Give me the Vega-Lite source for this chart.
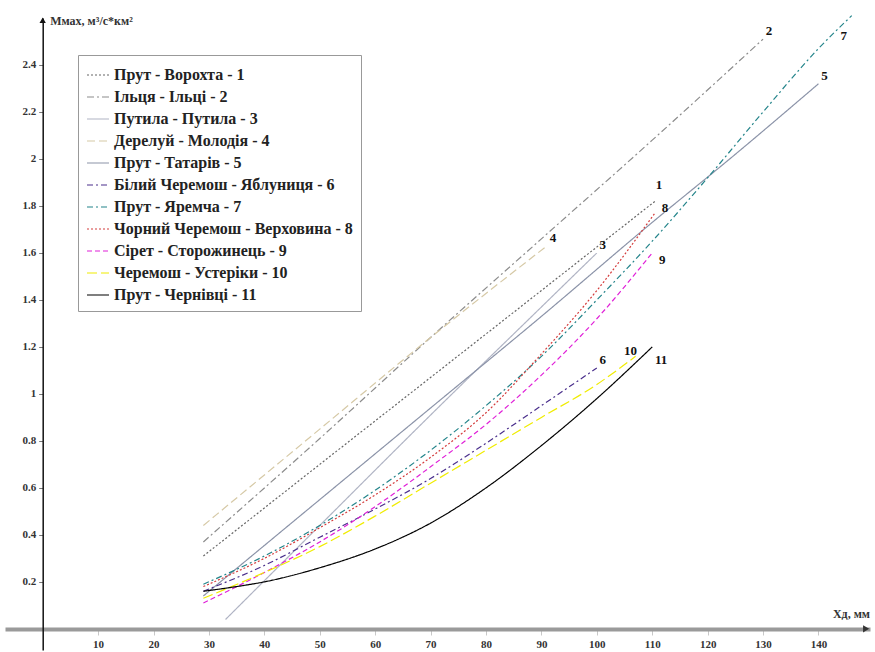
{
  "$schema": "https://vega.github.io/schema/vega-lite/v6.json",
  "width": 865,
  "height": 632,
  "autosize": {"type": "none"},
  "padding": {"left": 5, "top": 18, "right": 5, "bottom": 2},
  "background": "white",
  "config": {"view": {"stroke": null}, "font": "Liberation Serif"},
  "data": {"values": [
    {"s": "Прут - Ворохта - 1", "n": "1", "x": 29, "y": 0.31},
    {"s": "Прут - Ворохта - 1", "n": "1", "x": 50, "y": 0.70},
    {"s": "Прут - Ворохта - 1", "n": "1", "x": 70, "y": 1.07},
    {"s": "Прут - Ворохта - 1", "n": "1", "x": 90, "y": 1.44},
    {"s": "Прут - Ворохта - 1", "n": "1", "x": 110.5, "y": 1.82},
    {"s": "Ільця - Ільці - 2", "n": "2", "x": 29, "y": 0.37},
    {"s": "Ільця - Ільці - 2", "n": "2", "x": 50, "y": 0.81},
    {"s": "Ільця - Ільці - 2", "n": "2", "x": 70, "y": 1.24},
    {"s": "Ільця - Ільці - 2", "n": "2", "x": 90, "y": 1.66},
    {"s": "Ільця - Ільці - 2", "n": "2", "x": 110, "y": 2.08},
    {"s": "Ільця - Ільці - 2", "n": "2", "x": 130, "y": 2.51},
    {"s": "Путила - Путила - 3", "n": "3", "x": 33, "y": 0.04},
    {"s": "Путила - Путила - 3", "n": "3", "x": 50, "y": 0.44},
    {"s": "Путила - Путила - 3", "n": "3", "x": 70, "y": 0.91},
    {"s": "Путила - Путила - 3", "n": "3", "x": 90, "y": 1.37},
    {"s": "Путила - Путила - 3", "n": "3", "x": 100, "y": 1.60},
    {"s": "Дерелуй - Молодія - 4", "n": "4", "x": 29, "y": 0.44},
    {"s": "Дерелуй - Молодія - 4", "n": "4", "x": 50, "y": 0.85},
    {"s": "Дерелуй - Молодія - 4", "n": "4", "x": 70, "y": 1.24},
    {"s": "Дерелуй - Молодія - 4", "n": "4", "x": 91, "y": 1.63},
    {"s": "Прут - Татарів - 5", "n": "5", "x": 29, "y": 0.14},
    {"s": "Прут - Татарів - 5", "n": "5", "x": 50, "y": 0.55},
    {"s": "Прут - Татарів - 5", "n": "5", "x": 70, "y": 0.94},
    {"s": "Прут - Татарів - 5", "n": "5", "x": 90, "y": 1.33},
    {"s": "Прут - Татарів - 5", "n": "5", "x": 110, "y": 1.73},
    {"s": "Прут - Татарів - 5", "n": "5", "x": 125, "y": 2.02},
    {"s": "Прут - Татарів - 5", "n": "5", "x": 140, "y": 2.32},
    {"s": "Білий Черемош - Яблуниця - 6", "n": "6", "x": 29, "y": 0.16},
    {"s": "Білий Черемош - Яблуниця - 6", "n": "6", "x": 40, "y": 0.27},
    {"s": "Білий Черемош - Яблуниця - 6", "n": "6", "x": 50, "y": 0.39},
    {"s": "Білий Черемош - Яблуниця - 6", "n": "6", "x": 60, "y": 0.51},
    {"s": "Білий Черемош - Яблуниця - 6", "n": "6", "x": 70, "y": 0.64},
    {"s": "Білий Черемош - Яблуниця - 6", "n": "6", "x": 80, "y": 0.79},
    {"s": "Білий Черемош - Яблуниця - 6", "n": "6", "x": 90, "y": 0.95},
    {"s": "Білий Черемош - Яблуниця - 6", "n": "6", "x": 100, "y": 1.11},
    {"s": "Прут - Яремча - 7", "n": "7", "x": 29, "y": 0.19},
    {"s": "Прут - Яремча - 7", "n": "7", "x": 40, "y": 0.31},
    {"s": "Прут - Яремча - 7", "n": "7", "x": 50, "y": 0.44},
    {"s": "Прут - Яремча - 7", "n": "7", "x": 60, "y": 0.59},
    {"s": "Прут - Яремча - 7", "n": "7", "x": 70, "y": 0.76},
    {"s": "Прут - Яремча - 7", "n": "7", "x": 80, "y": 0.95},
    {"s": "Прут - Яремча - 7", "n": "7", "x": 90, "y": 1.16},
    {"s": "Прут - Яремча - 7", "n": "7", "x": 100, "y": 1.40},
    {"s": "Прут - Яремча - 7", "n": "7", "x": 110, "y": 1.65},
    {"s": "Прут - Яремча - 7", "n": "7", "x": 120, "y": 1.92},
    {"s": "Прут - Яремча - 7", "n": "7", "x": 130, "y": 2.20},
    {"s": "Прут - Яремча - 7", "n": "7", "x": 140, "y": 2.47},
    {"s": "Прут - Яремча - 7", "n": "7", "x": 146, "y": 2.61},
    {"s": "Чорний Черемош - Верховина - 8", "n": "8", "x": 29, "y": 0.18},
    {"s": "Чорний Черемош - Верховина - 8", "n": "8", "x": 40, "y": 0.30},
    {"s": "Чорний Черемош - Верховина - 8", "n": "8", "x": 50, "y": 0.43},
    {"s": "Чорний Черемош - Верховина - 8", "n": "8", "x": 60, "y": 0.57},
    {"s": "Чорний Черемош - Верховина - 8", "n": "8", "x": 70, "y": 0.73},
    {"s": "Чорний Черемош - Верховина - 8", "n": "8", "x": 80, "y": 0.92},
    {"s": "Чорний Черемош - Верховина - 8", "n": "8", "x": 90, "y": 1.17},
    {"s": "Чорний Черемош - Верховина - 8", "n": "8", "x": 100, "y": 1.44},
    {"s": "Чорний Черемош - Верховина - 8", "n": "8", "x": 110.5, "y": 1.77},
    {"s": "Сірет - Сторожинець - 9", "n": "9", "x": 29, "y": 0.11},
    {"s": "Сірет - Сторожинець - 9", "n": "9", "x": 40, "y": 0.24},
    {"s": "Сірет - Сторожинець - 9", "n": "9", "x": 50, "y": 0.37},
    {"s": "Сірет - Сторожинець - 9", "n": "9", "x": 60, "y": 0.52},
    {"s": "Сірет - Сторожинець - 9", "n": "9", "x": 70, "y": 0.69},
    {"s": "Сірет - Сторожинець - 9", "n": "9", "x": 80, "y": 0.87},
    {"s": "Сірет - Сторожинець - 9", "n": "9", "x": 90, "y": 1.08},
    {"s": "Сірет - Сторожинець - 9", "n": "9", "x": 100, "y": 1.32},
    {"s": "Сірет - Сторожинець - 9", "n": "9", "x": 110, "y": 1.60},
    {"s": "Черемош - Устерiки - 10", "n": "10", "x": 29, "y": 0.13},
    {"s": "Черемош - Устерiки - 10", "n": "10", "x": 40, "y": 0.24},
    {"s": "Черемош - Устерiки - 10", "n": "10", "x": 50, "y": 0.35},
    {"s": "Черемош - Устерiки - 10", "n": "10", "x": 60, "y": 0.48},
    {"s": "Черемош - Устерiки - 10", "n": "10", "x": 70, "y": 0.62},
    {"s": "Черемош - Устерiки - 10", "n": "10", "x": 80, "y": 0.76},
    {"s": "Черемош - Устерiки - 10", "n": "10", "x": 90, "y": 0.90},
    {"s": "Черемош - Устерiки - 10", "n": "10", "x": 100, "y": 1.04},
    {"s": "Черемош - Устерiки - 10", "n": "10", "x": 107, "y": 1.16},
    {"s": "Прут - Чернівці - 11", "n": "11", "x": 29, "y": 0.16},
    {"s": "Прут - Чернівці - 11", "n": "11", "x": 35, "y": 0.18},
    {"s": "Прут - Чернівці - 11", "n": "11", "x": 40, "y": 0.20},
    {"s": "Прут - Чернівці - 11", "n": "11", "x": 50, "y": 0.26},
    {"s": "Прут - Чернівці - 11", "n": "11", "x": 60, "y": 0.34},
    {"s": "Прут - Чернівці - 11", "n": "11", "x": 70, "y": 0.45},
    {"s": "Прут - Чернівці - 11", "n": "11", "x": 80, "y": 0.60},
    {"s": "Прут - Чернівці - 11", "n": "11", "x": 90, "y": 0.78},
    {"s": "Прут - Чернівці - 11", "n": "11", "x": 100, "y": 0.98},
    {"s": "Прут - Чернівці - 11", "n": "11", "x": 110, "y": 1.20}
  ]},
  "encoding": {
    "x": {"field": "x", "type": "quantitative",
      "scale": {"domain": [-6.8, 149.3], "nice": false, "zero": false},
      "axis": {"orient": "bottom", "offset": -21, "values": [10,20,30,40,50,60,70,80,90,100,110,120,130,140],
        "grid": false, "domainColor": "#9a9a9a", "domainWidth": 4, "tickColor": "#c8c8c8", "tickSize": 6, "tickWidth": 1,
        "labelFont": "Liberation Serif", "labelFontWeight": "bold", "labelFontSize": 11, "labelColor": "#333", "labelPadding": 3,
        "title": "Xд, мм", "titleFont": "Liberation Serif", "titleFontSize": 12, "titleFontWeight": "bold", "titleColor": "#333",
        "titleX": 846, "titleY": -16, "titleAlign": "center", "titleBaseline": "middle", "titleAngle": 0}},
    "y": {"field": "y", "type": "quantitative",
      "scale": {"domain": [-0.09, 2.6], "nice": false, "zero": false},
      "axis": {"orient": "left", "offset": -37.7, "values": [0.2,0.4,0.6,0.8,1,1.2,1.4,1.6,1.8,2,2.2,2.4],
        "format": "~g", "grid": false, "domainColor": "#111", "domainWidth": 1.5, "tickColor": "#777", "tickSize": 4,
        "labelFont": "Liberation Serif", "labelFontWeight": "bold", "labelFontSize": 11, "labelColor": "#333", "labelPadding": 3,
        "title": "Mмах, м³/с*км²", "titleFont": "Liberation Serif", "titleFontSize": 12, "titleFontWeight": "bold", "titleColor": "#333",
        "titleX": 7, "titleY": 2, "titleAlign": "left", "titleBaseline": "middle", "titleAngle": 0}}
  },
  "layer": [
    {
      "mark": {"type": "line", "interpolate": "monotone"},
      "encoding": {
        "color": {"field": "s", "type": "nominal",
          "scale": {"domain": ["Прут - Ворохта - 1", "Ільця - Ільці - 2", "Путила - Путила - 3", "Дерелуй - Молодія - 4", "Прут - Татарів - 5", "Білий Черемош - Яблуниця - 6", "Прут - Яремча - 7", "Чорний Черемош - Верховина - 8", "Сірет - Сторожинець - 9", "Черемош - Устерiки - 10", "Прут - Чернівці - 11"],
            "range": ["#666666", "#8c8c8c", "#b0b4c4", "#d6c9a6", "#8b93a8", "#4a2f8c", "#23848a", "#d43c3c", "#e020d8", "#f0ec00", "#000000"]},
          "legend": {"title": null, "orient": "none", "legendX": 73, "legendY": 37, "symbolType": "stroke", "symbolSize": 484,
            "labelFont": "Liberation Serif", "labelFontSize": 16, "labelFontWeight": "bold", "labelColor": "#222", "labelLimit": 400,
            "rowPadding": 2, "padding": 8, "strokeColor": "#999", "fillColor": "white", "symbolOpacity": 1}},
        "strokeDash": {"field": "s", "type": "nominal",
          "scale": {"domain": ["Прут - Ворохта - 1", "Ільця - Ільці - 2", "Путила - Путила - 3", "Дерелуй - Молодія - 4", "Прут - Татарів - 5", "Білий Черемош - Яблуниця - 6", "Прут - Яремча - 7", "Чорний Черемош - Верховина - 8", "Сірет - Сторожинець - 9", "Черемош - Устерiки - 10", "Прут - Чернівці - 11"],
            "range": [[2,2], [7,3,2,3], [1,0], [8,4], [1,0], [6,3,2,3], [6,3,2,3], [2,2], [5,3], [10,4], [1,0]]}},
        "strokeWidth": {"field": "s", "type": "nominal",
          "scale": {"domain": ["Прут - Ворохта - 1", "Ільця - Ільці - 2", "Путила - Путила - 3", "Дерелуй - Молодія - 4", "Прут - Татарів - 5", "Білий Черемош - Яблуниця - 6", "Прут - Яремча - 7", "Чорний Черемош - Верховина - 8", "Сірет - Сторожинець - 9", "Черемош - Устерiки - 10", "Прут - Чернівці - 11"],
            "range": [1.2, 1.2, 1, 1.5, 1.2, 1.5, 1.8, 1.5, 2, 3, 3]}}
      }
    },
    {
      "transform": [
        {"window": [{"op": "row_number", "as": "rk"}], "groupby": ["s"], "sort": [{"field": "x", "order": "descending"}]},
        {"filter": "datum.rk == 1 && indexof(['1','7','8','9','10','11'], datum.n) < 0"}
      ],
      "mark": {"type": "text", "font": "Liberation Serif", "fontWeight": "bold", "fontSize": 13, "color": "#111", "dx": 6, "dy": -8},
      "encoding": {"text": {"field": "n"}}
    },
    {
      "transform": [
        {"window": [{"op": "row_number", "as": "rk"}], "groupby": ["s"], "sort": [{"field": "x", "order": "descending"}]},
        {"filter": "datum.rk == 1 && datum.n == '1'"}
      ],
      "mark": {"type": "text", "font": "Liberation Serif", "fontWeight": "bold", "fontSize": 13, "color": "#111", "dx": 4, "dy": -16},
      "encoding": {"text": {"field": "n"}}
    },
    {
      "transform": [
        {"window": [{"op": "row_number", "as": "rk"}], "groupby": ["s"], "sort": [{"field": "x", "order": "descending"}]},
        {"filter": "datum.rk == 1 && datum.n == '8'"}
      ],
      "mark": {"type": "text", "font": "Liberation Serif", "fontWeight": "bold", "fontSize": 13, "color": "#111", "dx": 10, "dy": -5},
      "encoding": {"text": {"field": "n"}}
    },
    {
      "transform": [
        {"window": [{"op": "row_number", "as": "rk"}], "groupby": ["s"], "sort": [{"field": "x", "order": "descending"}]},
        {"filter": "datum.rk == 1 && datum.n == '7'"}
      ],
      "mark": {"type": "text", "font": "Liberation Serif", "fontWeight": "bold", "fontSize": 13, "color": "#111", "dx": -8, "dy": 20},
      "encoding": {"text": {"field": "n"}}
    },
    {
      "transform": [
        {"window": [{"op": "row_number", "as": "rk"}], "groupby": ["s"], "sort": [{"field": "x", "order": "descending"}]},
        {"filter": "datum.rk == 1 && datum.n == '9'"}
      ],
      "mark": {"type": "text", "font": "Liberation Serif", "fontWeight": "bold", "fontSize": 13, "color": "#111", "dx": 10, "dy": 7},
      "encoding": {"text": {"field": "n"}}
    },
    {
      "transform": [
        {"window": [{"op": "row_number", "as": "rk"}], "groupby": ["s"], "sort": [{"field": "x", "order": "descending"}]},
        {"filter": "datum.rk == 1 && datum.n == '10'"}
      ],
      "mark": {"type": "text", "font": "Liberation Serif", "fontWeight": "bold", "fontSize": 13, "color": "#111", "dx": -5, "dy": -5},
      "encoding": {"text": {"field": "n"}}
    },
    {
      "transform": [
        {"window": [{"op": "row_number", "as": "rk"}], "groupby": ["s"], "sort": [{"field": "x", "order": "descending"}]},
        {"filter": "datum.rk == 1 && datum.n == '11'"}
      ],
      "mark": {"type": "text", "font": "Liberation Serif", "fontWeight": "bold", "fontSize": 13, "color": "#111", "dx": 9, "dy": 13},
      "encoding": {"text": {"field": "n"}}
    },
    {
      "data": {"values": [{"ax": 0, "ay": 2.59}]},
      "mark": {"type": "point", "shape": "triangle-up", "filled": true, "color": "#111", "size": 40, "opacity": 1},
      "encoding": {"x": {"field": "ax", "type": "quantitative"}, "y": {"field": "ay", "type": "quantitative"}}
    },
    {
      "data": {"values": [{"ax": 148.6, "ay": 0}]},
      "mark": {"type": "point", "shape": "triangle-right", "filled": true, "color": "#333", "size": 50, "opacity": 1},
      "encoding": {"x": {"field": "ax", "type": "quantitative"}, "y": {"field": "ay", "type": "quantitative"}}
    }
  ]
}
